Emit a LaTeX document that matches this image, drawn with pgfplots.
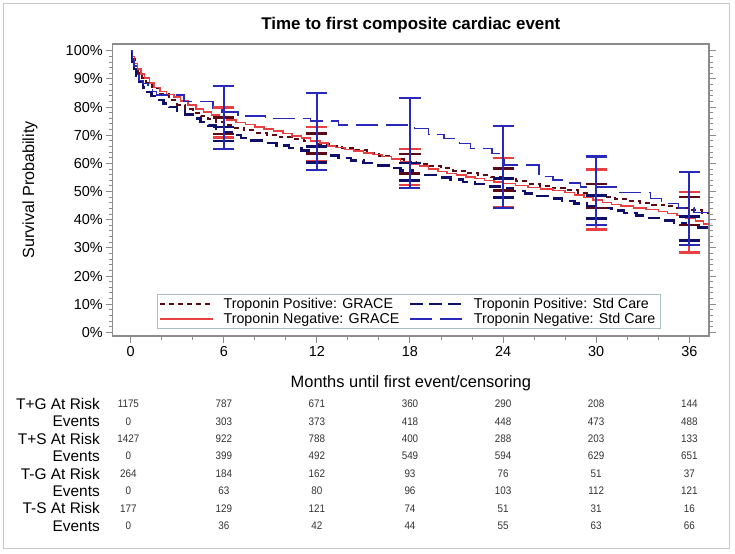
\documentclass[border=0pt]{standalone}
\usepackage{pgfplots}
\usepackage{pgfplotstable}
\pgfplotsset{compat=1.18}
\usepackage{fontspec}
\setmainfont{Liberation Sans}
\newfontfamily\numfont[FakeStretch=0.9]{Liberation Sans}

\definecolor{tpg}{RGB}{90,10,20}
\definecolor{tng}{RGB}{232,64,64}
\definecolor{tps}{RGB}{15,15,105}
\definecolor{tns}{RGB}{40,40,185}
\definecolor{axisgray}{RGB}{140,140,140}
\definecolor{framegray}{RGB}{200,200,200}
\definecolor{leggray}{RGB}{170,190,195}

% Kaplan-Meier estimates (months, survival %)
\pgfplotstableread{
t s
0 100
0.1 97
0.25 94.5
0.5 92
0.75 90.2
1.0 88.6
1.4 86.6
1.9 84.5
2.5 82.4
3.0 80.8
3.5 79.3
4.0 78.0
4.5 76.8
5.0 75.7
5.5 74.6
6.0 73.5
6.6 72.6
7.3 71.7
8.0 70.9
8.8 70.1
9.6 69.3
10.4 68.6
11.2 67.8
12.0 67.0
12.8 66.3
13.6 65.5
14.4 64.6
15.2 63.6
16.0 62.6
16.8 61.6
17.6 60.6
18.4 59.8
19.2 59.0
20.0 58.2
20.8 57.4
21.6 56.6
22.4 55.8
23.2 55.0
24.0 54.3
24.8 53.6
25.6 52.8
26.4 52.0
27.2 51.2
28.0 50.4
28.8 49.6
29.6 48.9
30.4 48.2
31.2 47.5
32.0 46.8
32.8 46.1
33.6 45.4
34.4 44.7
35.2 44.0
36.0 43.3
36.8 42.5
37.27 42.5
}\tpgrace

\pgfplotstableread{
t s
0 100
0.08 96
0.2 93.5
0.35 91
0.55 89
0.8 87
1.05 85.4
1.35 84
1.7 82.6
2.1 81.2
2.5 80
3.0 78.6
3.5 77.3
4.0 76.0
4.5 74.7
5.0 73.4
5.5 72.2
6.0 71.0
6.5 70.0
7.1 69.1
7.8 68.2
8.6 67.3
9.4 66.4
10.2 65.5
11.0 64.6
11.8 63.7
12.6 62.8
13.4 61.9
14.2 61.0
15.0 60.1
15.8 59.2
16.6 58.3
17.4 57.4
18.2 56.6
19.0 55.8
19.8 55.0
20.6 54.2
21.4 53.4
22.2 52.6
23.0 51.8
23.8 51.0
24.6 50.2
25.4 49.3
26.2 48.4
27.0 47.5
27.8 46.6
28.6 45.7
29.4 44.9
30.2 44.1
31.0 43.3
31.8 42.4
32.6 41.5
33.4 40.6
34.2 39.7
35.0 38.9
35.8 38.1
36.6 37.3
37.27 37.3
}\tpstd

\pgfplotstableread{
t s
0 100
0.1 98
0.25 95.5
0.45 93.5
0.65 91.8
0.9 90.3
1.2 88.5
1.5 87
1.9 85.5
2.3 84.4
2.8 83.5
3.2 82.2
3.7 80.8
4.2 79.3
4.7 78.3
5.2 77.2
5.7 76.2
6.2 75.4
6.8 74.6
7.4 73.9
8.0 73.0
8.6 72.2
9.2 71.5
9.8 70.6
10.4 69.8
11.0 69.0
11.6 68.0
12.2 67.2
12.7 66.2
13.2 65.6
13.8 65.0
14.4 64.4
15.0 63.7
15.6 63.1
16.2 62.4
16.8 61.6
17.4 60.7
18.0 59.8
18.6 59.0
19.2 58.0
19.8 57.2
20.4 56.4
21.0 55.8
21.6 55.2
22.2 54.6
22.8 54.0
23.4 53.4
24.0 52.8
24.8 52.2
25.6 51.5
26.4 50.9
27.2 50.3
28.0 49.6
28.6 48.8
29.2 47.9
29.8 47.0
30.4 46.2
31.0 45.4
31.6 44.8
32.4 44.2
33.2 43.6
34.0 42.9
34.6 42.2
35.2 41.5
35.8 40.6
36.4 39.5
36.9 38.5
37.27 38.5
}\tngrace

\pgfplotstableread{
t s
0 100
0.1 96.5
0.2 94.5
0.35 91.5
0.55 89.5
0.8 88.3
1.1 87.2
1.4 85.5
1.65 84.3
3.45 81.9
5.3 79.6
5.9 78.3
6.9 76.8
8.7 76.0
11.6 75.1
13.4 73.6
18.3 72.4
19.2 70.2
20.2 68.9
21.2 67.1
21.9 65.3
23.3 63.6
24.1 59.4
26.3 55.3
27.2 54.1
28.3 53.0
29.0 51.7
31.3 49.6
33.5 47.6
34.2 45.8
35.3 44.2
36.3 42.5
37.27 42.5
}\tnstd

% pointwise confidence limits every 6 months
\pgfplotstableread{
t s lo hi
6 73.5 70.5 76.3
12 67.0 63.6 70.6
18 60.6 56.4 63.4
24 54.3 50.4 58.2
30 48.9 44.2 52.6
36 43.3 38.1 48.0
}\tpgraceci

\pgfplotstableread{
t s lo hi
6 71.0 68.0 73.0
12 63.7 60.4 66.0
18 57.4 54.0 60.2
24 51.0 47.8 54.6
30 44.9 40.4 48.6
36 38.1 32.6 41.2
}\tpstdci

\pgfplotstableread{
t s lo hi
6 76.2 69.2 79.8
12 68.0 60.8 73.0
18 59.8 52.3 65.2
24 52.8 44.6 62.0
30 47.0 36.6 57.9
36 40.6 28.4 49.8
}\tngraceci

\pgfplotstableread{
t s lo hi
6 78.3 65.1 87.4
12 75.1 57.6 85.0
18 73.6 51.2 83.2
24 63.6 44.2 73.3
30 51.7 38.1 62.5
36 44.2 31.0 57.0
}\tnstdci

\pgfplotsset{
  cibars/.style={forget plot, draw=none, mark=none,
    error bars/.cd, y dir=both, y explicit,
    error bar style={draw=#1, solid, line width=2bp},
    error mark=|,
    error mark options={draw=#1, solid, line width=2.5bp, mark size=10.5bp}},
}

\begin{document}
\begin{tikzpicture}
\path[use as bounding box] (0,0) rectangle (735bp,-554bp);
\draw[framegray, line width=1bp] (3.5bp,-3.5bp) rectangle (729.5bp,-548bp);

\begin{axis}[
  at={(112.7bp,-336bp)}, anchor=south west,
  width=596.3bp, height=292bp, scale only axis,
  xmin=-1.16, xmax=37.27, ymin=-1.3, ymax=102.4,
  xtick={0,6,...,36}, minor x tick num=2,
  ytick={0,10,...,100}, minor y tick num=4,
  yticklabel={\pgfmathprintnumber{\tick}\%},
  /pgf/number format/assume math mode=true,
  tick align=outside, xtick pos=left, ytick pos=both,
  major tick length=6.5bp, minor tick length=4bp,
  axis line style={axisgray, line width=1.2bp},
  every tick/.style={axisgray, line width=1bp},
  tick label style={font=\fontsize{14.5}{16}\selectfont},
  title={Time to first composite cardiac event},
  title style={font=\fontsize{17}{19}\selectfont\bfseries,
    at={(axis description cs:0.5,1.0445)}, anchor=center},
  xlabel={Months until first event/censoring},
  xlabel style={font=\fontsize{16.5}{18}\selectfont,
    at={(axis description cs:0.5,-0.161)}, anchor=center},
  ylabel={Survival Probability},
  ylabel style={font=\fontsize{16.2}{18}\selectfont,
    at={(axis description cs:-0.1387,0.5)}, anchor=center},
  legend columns=2,
  legend cell align=left,
  legend image code/.code={\draw[#1] (0bp,0bp) -- (53bp,0bp); \path (59bp,0bp);},
  legend style={at={(axis description cs:0.0738,0.1428)}, anchor=north west,
    draw=leggray, line width=0.8bp, inner sep=2bp,
    font=\fontsize{14.3}{16}\selectfont,
    nodes={inner ysep=1.2bp, inner xsep=3.5bp},
    row sep=1.2bp,
    /tikz/every even column/.append style={column sep=6bp}},
]
\addplot[tpg, line width=2bp, dash pattern=on 5bp off 4bp, const plot] table[x=t,y=s] {\tpgrace};
\addlegendentry{Troponin Positive: GRACE}
\addplot[tps, line width=2.5bp, dash pattern=on 13bp off 6bp, const plot] table[x=t,y=s] {\tpstd};
\addlegendentry{Troponin Positive: Std Care}
\addplot[tng, line width=1.5bp, const plot] table[x=t,y=s] {\tngrace};
\addlegendentry{Troponin Negative: GRACE}
\addplot[tns, line width=1.5bp, dash pattern=on 22bp off 8bp, const plot] table[x=t,y=s] {\tnstd};
\addlegendentry{Troponin Negative: Std Care}

\addplot[cibars=tng] table[x=t, y=s, y error plus expr=\thisrow{hi}-\thisrow{s}, y error minus expr=\thisrow{s}-\thisrow{lo}] {\tngraceci};
\addplot[cibars=tpg] table[x=t, y=s, y error plus expr=\thisrow{hi}-\thisrow{s}, y error minus expr=\thisrow{s}-\thisrow{lo}] {\tpgraceci};
\addplot[cibars=tps] table[x=t, y=s, y error plus expr=\thisrow{hi}-\thisrow{s}, y error minus expr=\thisrow{s}-\thisrow{lo}] {\tpstdci};
\addplot[cibars=tns] table[x=t, y=s, y error plus expr=\thisrow{hi}-\thisrow{s}, y error minus expr=\thisrow{s}-\thisrow{lo}] {\tnstdci};

% column anchors for the risk table
\coordinate (c0) at (axis cs:-0.15,0);
\coordinate (c1) at (axis cs:6,0);
\coordinate (c2) at (axis cs:12,0);
\coordinate (c3) at (axis cs:18,0);
\coordinate (c4) at (axis cs:24,0);
\coordinate (c5) at (axis cs:30,0);
\coordinate (c6) at (axis cs:36,0);
\end{axis}

% number-at-risk table
\foreach \lab/\yy/\vals in {
  T+G At Risk/404/{1175,787,671,360,290,208,144},
  Events/421.4/{0,303,373,418,448,473,488},
  T+S At Risk/438.8/{1427,922,788,400,288,203,133},
  Events/456.2/{0,399,492,549,594,629,651},
  T-G At Risk/473.6/{264,184,162,93,76,51,37},
  Events/491/{0,63,80,96,103,112,121},
  T-S At Risk/508.4/{177,129,121,74,51,31,16},
  Events/525.8/{0,36,42,44,55,63,66}} {
  \node[anchor=east, font=\fontsize{15.5}{17}\selectfont, inner sep=0pt] at (100bp,-\yy bp) {\lab};
  \foreach \v [count=\i from 0] in \vals {
    \node[font=\numfont\fontsize{11}{13}\selectfont, text=black!80, inner sep=0pt] at (c\i |- 0,-\yy bp) {\v};
  }
}
\end{tikzpicture}
\end{document}
